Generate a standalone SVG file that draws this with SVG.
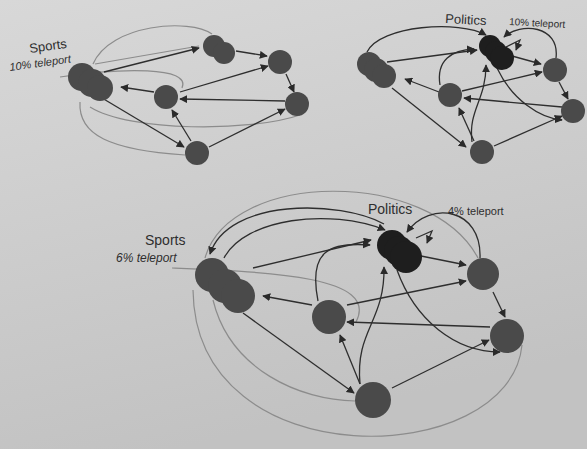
<svg xmlns="http://www.w3.org/2000/svg" width="587" height="449" viewBox="0 0 587 449">
<defs>
<linearGradient id="bg" x1="0" y1="0" x2="0.3" y2="1">
<stop offset="0" stop-color="#d8d8d8"/>
<stop offset="1" stop-color="#c2c2c2"/>
</linearGradient>
<marker id="ah" viewBox="0 0 10 10" refX="9" refY="5" markerWidth="8" markerHeight="8" markerUnits="userSpaceOnUse" orient="auto">
<path d="M0,0 L10,5 L0,10 z" fill="#2a2a2a"/>
</marker>
</defs>
<style>
.e{fill:none;stroke:#2e2e2e;stroke-width:1.3;marker-end:url(#ah)}
.g{fill:none;stroke:#8c8c8c;stroke-width:1.2}
.n{fill:#4a4a4a}
.p{fill:#1e1e1e}
.t{font-family:"Liberation Sans",Arial,sans-serif;fill:#2e2e2e}
.i{font-style:italic}
</style>
<rect width="587" height="449" fill="url(#bg)"/>

<g id="connectors">
<!-- top-left graph -->
<path class="g" d="M93,64 C110,24 190,18 212,34"/>
<path class="g" d="M60,77 C120,68 192,66 182,88"/>
<path class="g" d="M80,102 C78,135 110,150 185,155"/>
<path class="g" d="M90,107 C130,132 250,132 300,115"/>
<path class="g" d="M95,64 L199,46"/>
<path class="e" d="M104,72 L199,48"/>
<path class="e" d="M236,51 L267,56"/>
<path class="e" d="M180,92 L268,66"/>
<path class="e" d="M286,74 L294,92"/>
<path class="e" d="M285,101 L180,99"/>
<path class="e" d="M154,92 L121,87"/>
<path class="e" d="M102,98 L184,147"/>
<path class="e" d="M191,141 L172,110"/>
<path class="e" d="M209,147 L285,109"/>

<!-- top-right graph -->
<path class="e" d="M367,52 C380,25 460,20 486,35"/>
<path class="e" d="M556,58 C560,25 520,22 504,37"/>
<path class="e" d="M387,62 L477,50"/>
<path class="e" d="M440,85 C436,60 452,50 474,49"/>
<path class="e" d="M472,142 C468,110 486,100 486,65"/>
<path class="e" d="M512,56 L541,64"/>
<path class="e" d="M462,91 L542,72"/>
<path class="e" d="M559,82 L568,99"/>
<path class="e" d="M562,107 L464,98"/>
<path class="e" d="M439,92 L405,79"/>
<path class="e" d="M392,88 L466,147"/>
<path class="e" d="M474,141 L459,108"/>
<path class="e" d="M494,146 L562,116"/>
<path class="e" d="M497,68 C512,100 540,118 562,120"/>
<path class="e" d="M506,47 L520,40 L516,50"/>

<!-- bottom graph -->
<path class="g" d="M205,258 C230,170 430,168 478,258"/>
<path class="g" d="M193,290 C195,480 510,470 522,345"/>
<path class="g" d="M213,300 C230,370 300,400 355,401"/>
<path class="g" d="M172,268 C270,272 380,276 356,322"/>
<path class="e" d="M384,224 C340,200 228,198 210,254"/>
<path class="e" d="M224,258 C245,218 330,208 385,230"/>
<path class="e" d="M253,268 L371,240"/>
<path class="e" d="M318,301 C308,250 330,242 370,245"/>
<path class="e" d="M360,384 C355,330 385,322 384,267"/>
<path class="e" d="M421,256 L466,265"/>
<path class="e" d="M347,305 L466,281"/>
<path class="e" d="M493,292 L505,317"/>
<path class="e" d="M490,327 L347,322"/>
<path class="e" d="M312,305 L263,296"/>
<path class="e" d="M243,313 L354,393"/>
<path class="e" d="M360,384 L340,335"/>
<path class="e" d="M392,388 L489,340"/>
<path class="e" d="M397,270 C415,320 455,352 500,352"/>
<path class="e" d="M480,258 C482,208 430,200 407,232"/>
<path class="e" d="M416,238 L432,231 L427,243"/>
</g>

<g id="n-sports1">
<circle class="n" cx="82" cy="77" r="14"/>
<circle class="n" cx="92" cy="83" r="14"/>
<circle class="n" cx="100" cy="88" r="13"/>
</g>
<g id="n-a1"><circle class="n" cx="214" cy="46" r="11"/><circle class="n" cx="224" cy="53" r="11"/></g>
<g id="n-b1"><circle class="n" cx="280" cy="62" r="12"/></g>
<g id="n-c1"><circle class="n" cx="297" cy="104" r="12"/></g>
<g id="n-d1"><circle class="n" cx="166" cy="97" r="12"/></g>
<g id="n-e1"><circle class="n" cx="197" cy="153" r="12"/></g>

<g id="n-politics2"><circle class="p" cx="490" cy="46" r="11"/><circle class="p" cx="496" cy="52" r="11"/><circle class="p" cx="502" cy="58" r="12"/></g>
<g id="n-a2"><circle class="n" cx="369" cy="64" r="12"/><circle class="n" cx="376" cy="70" r="12"/><circle class="n" cx="384" cy="76" r="12"/></g>
<g id="n-b2"><circle class="n" cx="555" cy="70" r="12"/></g>
<g id="n-c2"><circle class="n" cx="573" cy="111" r="12"/></g>
<g id="n-d2"><circle class="n" cx="450" cy="95" r="12"/></g>
<g id="n-e2"><circle class="n" cx="482" cy="152" r="12"/></g>

<g id="n-sports3">
<circle class="n" cx="212" cy="275" r="17"/>
<circle class="n" cx="225" cy="286" r="17"/>
<circle class="n" cx="238" cy="296" r="17"/>
</g>
<g id="n-politics3"><circle class="p" cx="392" cy="245" r="15"/><circle class="p" cx="399" cy="251" r="15"/><circle class="p" cx="406" cy="257" r="16"/></g>
<g id="n-b3"><circle class="n" cx="483" cy="274" r="16"/></g>
<g id="n-c3"><circle class="n" cx="507" cy="336" r="17"/></g>
<g id="n-d3"><circle class="n" cx="329" cy="317" r="17"/></g>
<g id="n-e3"><circle class="n" cx="373" cy="400" r="18"/></g>

<g id="labels">
<text class="t" x="30" y="53" font-size="13" transform="rotate(-8 30 53)">Sports</text>
<text class="t i" x="10" y="71" font-size="11" transform="rotate(-8 10 71)">10% teleport</text>
<text class="t" x="445" y="23" font-size="13" transform="rotate(3 445 23)">Politics</text>
<text class="t" x="509" y="25" font-size="10" transform="rotate(3 509 25)">10% teleport</text>
<text class="t" x="368" y="214" font-size="14">Politics</text>
<text class="t" x="448" y="215" font-size="11">4% teleport</text>
<text class="t" x="145" y="245" font-size="14">Sports</text>
<text class="t i" x="116" y="262" font-size="12">6% teleport</text>
</g>
</svg>
